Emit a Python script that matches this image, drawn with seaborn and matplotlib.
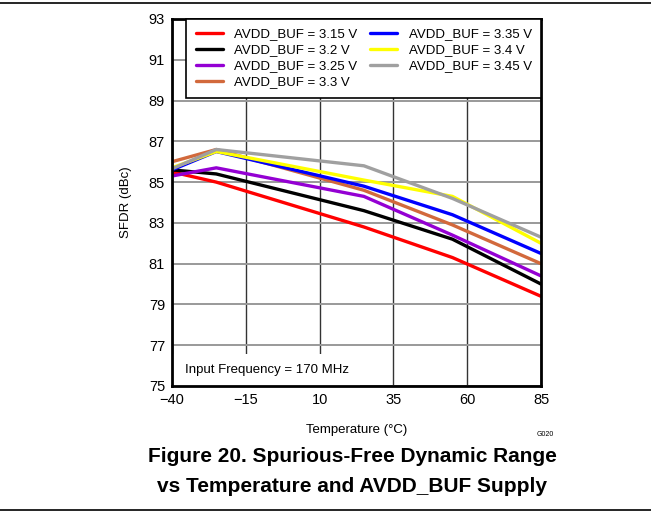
import seaborn as sns
import numpy as np
import pandas as pd
import matplotlib
matplotlib.use('Agg')
import matplotlib.pyplot as plt
from matplotlib.patches import Rectangle

# temperature points (°C)
temps = [-40, -25, 25, 55, 85]

# SFDR (dBc) per AVDD_BUF supply
sfdr_315 = [85.5, 85.0, 82.8, 81.3, 79.4]
sfdr_320 = [85.6, 85.4, 83.6, 82.2, 80.0]
sfdr_325 = [85.3, 85.7, 84.3, 82.4, 80.4]
sfdr_330 = [86.0, 86.6, 84.6, 82.9, 81.0]
sfdr_335 = [85.6, 86.5, 84.8, 83.4, 81.5]
sfdr_340 = [85.7, 86.5, 85.1, 84.3, 82.0]
sfdr_345 = [85.65, 86.6, 85.8, 84.2, 82.3]

labels = ['AVDD_BUF = 3.15 V', 'AVDD_BUF = 3.2 V', 'AVDD_BUF = 3.25 V',
          'AVDD_BUF = 3.3 V', 'AVDD_BUF = 3.35 V', 'AVDD_BUF = 3.4 V',
          'AVDD_BUF = 3.45 V']
series = [sfdr_315, sfdr_320, sfdr_325, sfdr_330, sfdr_335, sfdr_340, sfdr_345]
colors = ['#FF0000', '#000000', '#9400D3', '#D2693C', '#0000FF', '#FFFF00', '#A0A0A0']

x_ticks = [-40, -15, 10, 35, 60, 85]
y_ticks = [75, 77, 79, 81, 83, 85, 87, 89, 91, 93]

rows = []
for lab, vals in zip(labels, series):
    for t, v in zip(temps, vals):
        rows.append({'temp': t, 'sfdr': v, 'supply': lab})
df = pd.DataFrame(rows)

sns.set_style('white')
plt.rcParams['font.family'] = ['Liberation Sans', 'DejaVu Sans']
plt.rcParams['text.color'] = 'black'
plt.rcParams['axes.labelcolor'] = 'black'
plt.rcParams['xtick.color'] = 'black'
plt.rcParams['ytick.color'] = 'black'

fig = plt.figure(figsize=(6.51, 5.13), dpi=100)
ax = fig.add_axes([172 / 651, 1 - 386 / 513, 369 / 651, 367 / 513])

sns.lineplot(data=df, x='temp', y='sfdr', hue='supply', hue_order=labels,
             palette=dict(zip(labels, colors)), linewidth=2.4, ax=ax,
             zorder=3, sort=False)

ax.set_xlim(-40, 85)
ax.set_ylim(75, 93)
ax.set_xticks(x_ticks)
ax.set_yticks(y_ticks)
ax.set_axisbelow(True)
ax.yaxis.grid(True, color='#999999', linewidth=1.4)
ax.xaxis.grid(True, color='#333333', linewidth=1.0)
ax.tick_params(length=0, labelsize=10.5, pad=5)
for s in ax.spines.values():
    s.set_color('black')
    s.set_linewidth(2.0)
    s.set_zorder(5)

ax.set_xlabel('Temperature (°C)', fontsize=9.5, labelpad=12)
ax.set_ylabel('SFDR (dBc)', fontsize=9.5, labelpad=12)

# white box behind the annotation
ax.add_patch(Rectangle((0, 0), 0.51, 0.087, transform=ax.transAxes,
                       facecolor='white', edgecolor='none', zorder=1))
ax.text(0.036, 0.044, 'Input Frequency = 170 MHz', transform=ax.transAxes,
        fontsize=9.5, va='center', ha='left', zorder=2)

leg = ax.legend(loc='upper right', bbox_to_anchor=(1.0, 1.0), ncol=2,
                fontsize=9.5, frameon=True, fancybox=False, framealpha=1,
                edgecolor='black', borderaxespad=0, handlelength=2.05,
                handletextpad=0.85, columnspacing=1.0, labelspacing=0.28,
                borderpad=0.7)
leg.get_frame().set_linewidth(1.2)
leg.set_zorder(6)

fig.text(545 / 651, 1 - 435 / 513, 'G020', fontsize=5, ha='center', va='center')
fig.text(352 / 651, 1 - 456 / 513, 'Figure 20. Spurious-Free Dynamic Range',
         fontsize=15, fontweight='bold', ha='center', va='center')
fig.text(352 / 651, 1 - 486 / 513, 'vs Temperature and AVDD_BUF Supply',
         fontsize=15, fontweight='bold', ha='center', va='center')

fig.add_artist(plt.Line2D([0, 1], [1 - 2.5 / 513, 1 - 2.5 / 513],
                          transform=fig.transFigure, color='black', linewidth=1.2))
fig.add_artist(plt.Line2D([0, 1], [1 - 510 / 513, 1 - 510 / 513],
                          transform=fig.transFigure, color='black', linewidth=1.2))

fig.savefig('out.png', dpi=100)
